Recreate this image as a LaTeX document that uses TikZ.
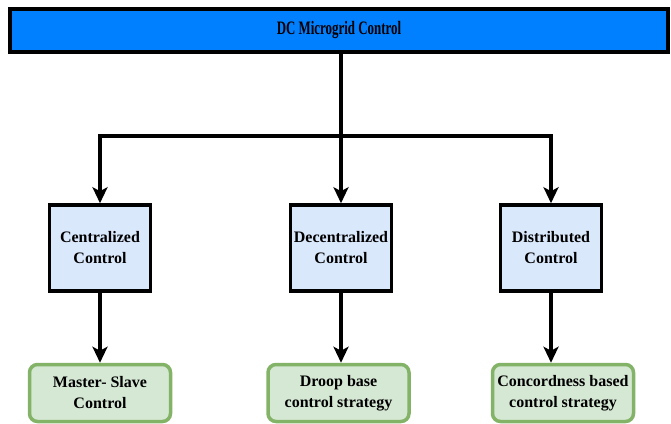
\documentclass[tikz,border=0pt]{standalone}
\usepackage{xcolor}
\usepackage{fontspec}
\setmainfont{Liberation Serif}
\newfontfamily\condfont[FakeStretch=0.68]{Liberation Serif}
\usepackage{tikz}
\usetikzlibrary{shapes.geometric, arrows.meta}
\definecolor{gridblue}{RGB}{0,127,255}
\definecolor{kindblue}{RGB}{218,232,252}
\definecolor{methodfill}{RGB}{213,232,212}
\definecolor{methodline}{RGB}{130,179,102}
\tikzstyle{gridbox} = [rectangle, minimum width=658pt, minimum height=43pt, text centered, draw=black, line width=3.5pt, fill=gridblue, font=\condfont\bfseries\fontsize{19}{22}\selectfont]
\tikzstyle{kind} = [rectangle, minimum width=101pt, minimum height=86pt, align=center, draw=black, line width=3.5pt, fill=kindblue, font=\bfseries\fontsize{16}{21}\selectfont]
\tikzstyle{method} = [rectangle, rounded corners=8pt, minimum width=141pt, minimum height=57pt, align=center, draw=methodline, line width=3.5pt, fill=methodfill, font=\bfseries\fontsize{16}{21}\selectfont]
\tikzstyle{arrow} = [line width=3.5pt, -{Stealth[length=16pt, width=15pt, inset=4pt]}]

\begin{document}
\begin{tikzpicture}[x=1pt, y=1pt, node distance=217.5pt]
		\useasboundingbox (0,0) rectangle (671,-423);
		
		\node (Grid) [gridbox] at (339,-30.5) {DC Microgrid Control};
		\node (Decentral) [kind, below of=Grid, xshift=2pt] {Decentralized\\Control};
		\node (Central) [kind, left of=Decentral, node distance=241pt] {Centralized\\Control};
		\node (Distrib) [kind, right of=Decentral, node distance=210pt] {Distributed\\Control};
		\node (MasterSlave) [method, below of=Central, node distance=145pt] {Master- Slave\\Control};
		\node (Droop) [method, below of=Decentral, node distance=145pt, xshift=-2.5pt] {Droop base\\control strategy};
		\node (Concord) [method, below of=Distrib, node distance=145pt, xshift=12pt] {Concordness based\\control strategy};
		\coordinate (Split) at (341,-136);
		
		\draw [arrow] (Grid.south -| Decentral) -- (Decentral);
		\draw [arrow] (Split) -| (Central);
		\draw [arrow] (Split) -| (Distrib);
		\draw [arrow] (Central) -- (MasterSlave);
		\draw [arrow] (Decentral) -- (Decentral |- Droop.north);
		\draw [arrow] (Distrib) -- (Distrib |- Concord.north);
	\end{tikzpicture}
\end{document}
